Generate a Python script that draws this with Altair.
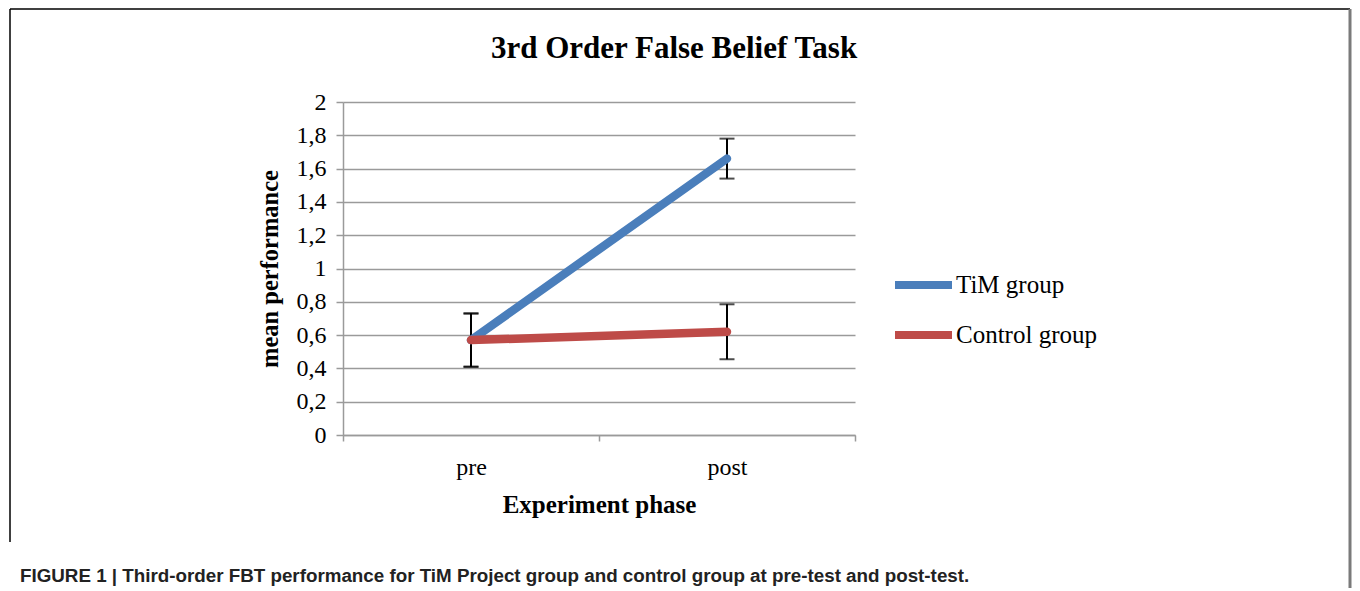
import altair as alt
import pandas as pd

# ---- data ----
phases = ["pre", "post"]
groups = ["TiM group", "Control group"]
tim_mean = [0.57, 1.66]
tim_err = [0.16, 0.12]
ctrl_mean = [0.57, 0.62]
ctrl_err = [0.16, 0.165]
y_ticks = [0, 0.2, 0.4, 0.6, 0.8, 1.0, 1.2, 1.4, 1.6, 1.8, 2.0]
colors = ["#4A7EBB", "#BE4B48"]
chart_title = "3rd Order False Belief Task"
x_title = "Experiment phase"
y_title = "mean performance"
caption = ("FIGURE 1 | Third-order FBT performance for TiM Project group and "
           "control group at pre-test and post-test.")

rows = []
for g, means, errs in [(groups[0], tim_mean, tim_err), (groups[1], ctrl_mean, ctrl_err)]:
    for p, m, e in zip(phases, means, errs):
        rows.append({"phase": p, "group": g, "mean": m, "lo": m - e, "hi": m + e})
df = pd.DataFrame(rows)

SERIF = "Liberation Serif"
SANS = "Liberation Sans Narrow, Liberation Sans, Arial, sans-serif"
GRID = "#9a9a9a"

W, H = 512, 333
PAD_L, PAD_T = 335, 94
PAD_R = 1344 - PAD_L - W
PAD_B = 580 - PAD_T - H

xscale = alt.Scale(type="band", domain=phases, paddingInner=0, paddingOuter=0)
yscale = alt.Scale(domain=[0, 2], nice=False)

x_axis = alt.Axis(
    title=x_title, titleFont=SERIF, titleFontSize=25, titleFontWeight="bold",
    titleColor="black", titleBaseline="alphabetic", titleY=77, titlePadding=0,
    labelFont=SERIF, labelFontSize=24, labelColor="black", labelAngle=0,
    labelBaseline="alphabetic", labelPadding=33, tickSize=6, tickBand="extent",
    tickColor=GRID, tickWidth=1.5, domainColor=GRID, domainWidth=1.5, grid=False,
)
y_axis = alt.Axis(
    title=y_title, titleFont=SERIF, titleFontSize=24.5, titleFontWeight="bold",
    titleColor="black", titleAngle=270, titleX=-73, titleY=H / 2,
    titleAlign="center", titleBaseline="middle",
    labelFont=SERIF, labelFontSize=24, labelColor="black", labelPadding=10,
    labelExpr="replace(format(datum.value, '.1~f'), '.', ',')",
    values=y_ticks, tickSize=7, tickColor=GRID, tickWidth=1.5,
    domainColor=GRID, domainWidth=1.5, grid=True, gridColor=GRID, gridWidth=1.5,
)

X = alt.X("phase:N", sort=phases, scale=xscale, bandPosition=0.5, axis=x_axis)


def Y(field):
    return alt.Y(field, type="quantitative", scale=yscale, axis=y_axis)


base = alt.Chart(df)

err_rule = base.mark_rule(color="black", strokeWidth=2).encode(
    x=X, y=Y("lo"), y2="hi:Q")
cap_lo = base.mark_tick(color="black", size=15, thickness=2).encode(x=X, y=Y("lo"))
cap_hi = base.mark_tick(color="black", size=15, thickness=2).encode(x=X, y=Y("hi"))

color = alt.Color(
    "group:N", scale=alt.Scale(domain=groups, range=colors),
    legend=alt.Legend(
        title=None, orient="none", legendX=548, legendY=158,
        symbolType="stroke", symbolSize=57 * 57, symbolStrokeWidth=8,
        labelFont=SERIF, labelFontSize=25, labelColor="black",
        clipHeight=50, rowPadding=0, labelOffset=0, padding=0,
    ),
)

line_tim = base.transform_filter(alt.datum.group == groups[0]).mark_line(
    strokeWidth=8.5, strokeCap="round").encode(x=X, y=Y("mean"), color=color)
line_ctrl = base.transform_filter(alt.datum.group == groups[1]).mark_line(
    strokeWidth=8.5, strokeCap="round").encode(x=X, y=Y("mean"), color=color)

one = alt.Data(values=[{"k": 0}])
frame_top = alt.Chart(one).mark_rule(color="black", strokeWidth=1.5).encode(
    x=alt.value(-333), x2=alt.value(1007), y=alt.value(-93))
frame_left = alt.Chart(one).mark_rule(color="black", strokeWidth=1.5).encode(
    x=alt.value(-333), y=alt.value(-93), y2=alt.value(440))
frame_right = alt.Chart(one).mark_rule(color="#7a7a7a", strokeWidth=3).encode(
    x=alt.value(1007), y=alt.value(-93), y2=alt.value(486))
title_text = alt.Chart(one).mark_text(
    text=chart_title, font=SERIF, fontSize=31, fontWeight="bold", color="black",
    align="center", baseline="alphabetic").encode(
    x=alt.value(331), y=alt.value(-44))
cap_text = alt.Chart(one).mark_text(
    text=caption, font=SANS, fontSize=18.8, fontWeight="bold", color="#222222",
    align="left", baseline="alphabetic").encode(
    x=alt.value(-323), y=alt.value(480))

chart = alt.layer(
    err_rule, cap_lo, cap_hi, line_tim, line_ctrl,
    frame_top, frame_left, frame_right, title_text, cap_text,
).properties(
    width=W, height=H,
    autosize=alt.AutoSizeParams(type="none"),
    padding={"left": PAD_L, "top": PAD_T, "right": PAD_R, "bottom": PAD_B},
    background="white",
).configure_view(stroke=None)

chart.save("out.html", embed_options={"renderer": "svg", "actions": False})
